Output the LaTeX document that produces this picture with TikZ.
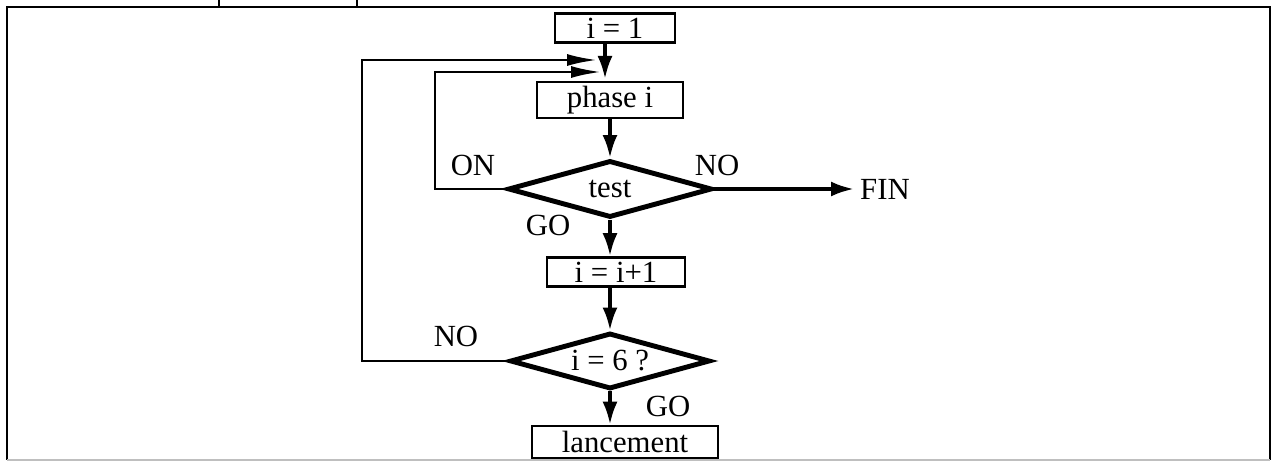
\documentclass[tikz,border=0pt]{standalone}
\usepackage{fontspec}
\setmainfont{Liberation Serif}
\usetikzlibrary{shapes.geometric, arrows.meta}
\tikzset{
  stepbox/.style={draw, line width=1.5pt, inner sep=0pt},
  testbox/.style={diamond, draw, line width=2.8pt, inner sep=0pt, aspect=3.5},
  flow/.style={line width=2.1pt, -{Latex[length=0.46cm,width=0.3cm]}},
  loopflow/.style={line width=1.5pt, -{Latex[length=0.6cm,width=0.24cm]}},
}

\begin{document}
\begin{tikzpicture}[x=0.02cm, y=-0.02cm, font=\fontsize{17.5}{20}\selectfont]

\useasboundingbox (0,0) rectangle (1275,462);

\draw[line width=1.6pt] (7,460) -- (7,7) -- (1270,7) -- (1270,460);
\draw[gray!50, line width=0.8pt] (7,460) -- (1270,460);
\draw[line width=1pt] (219,0) -- (219,7);
\draw[line width=1pt] (357,0) -- (357,7);


\node[stepbox, minimum width=2.4cm, minimum height=0.58cm] (i1) at (615,28) {i = 1};

\node[stepbox, minimum width=2.92cm, minimum height=0.72cm] (ph) at (610,100) {phase i};

\node[testbox, minimum width=4.08cm, minimum height=1.14cm] (tst) at (610,189) {test};

\node[stepbox, minimum width=2.76cm, minimum height=0.58cm] (inc) at (616,272) {i = i+1};

\node[testbox, minimum width=4.0cm, minimum height=1.12cm] (chk) at (610,361) {i = 6 ?};

\node[stepbox, minimum width=3.72cm, minimum height=0.64cm] (lan) at (625,442) {lancement};

\node (fin) at (885,189) {FIN};

\node (on) at (473,165) {ON};
\node (no1) at (717,165) {NO};
\node (go1) at (548,225) {GO};
\node (no2) at (456,336) {NO};
\node (go2) at (668,406) {GO};


\coordinate (ja) at (597,60);
\coordinate (jb) at (601,72);
\coordinate (jc) at (605,79);
\coordinate (la) at (362,60);
\coordinate (lb) at (435,72);

\draw[flow] (i1.south -| jc) -- (jc);
\draw[flow] (ph.south) -- (tst.north);
\draw[flow] (tst.south) -- (tst.south |- inc.north);
\draw[flow] (inc.south -| chk.north) -- (chk.north);
\draw[flow] (chk.south) -- (chk.south |- lan.north);
\draw[flow] (tst.east) -- (fin.west);

\draw[loopflow] (tst.west) -| (lb) -- (jb);
\draw[loopflow] (chk.west) -| (la) -- (ja);

\end{tikzpicture}
\end{document}
